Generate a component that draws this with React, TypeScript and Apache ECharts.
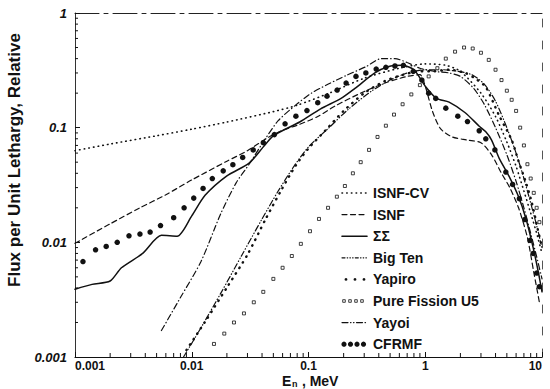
import React, { useEffect, useRef } from "react";
import * as echarts from "echarts";

// Axis ticks and labels
const energyDecades = [0.001, 0.01, 0.1, 1, 10];
const energyTickLabels = ["0.001", "0.01", "0.1", "1", "10"];
const fluxDecades = [0.001, 0.01, 0.1, 1];
const fluxTickLabels = ["0.001", "0.01", "0.1", "1"];
const minorMultipliers = [2, 3, 4, 5, 6, 7, 8, 9];

const seriesNames = ["ISNF-CV", "ISNF", "ΣΣ", "Big Ten", "Yapiro", "Pure Fission U5", "Yayoi", "CFRMF"];

// Spectra: energy (MeV) and relative flux per unit lethargy
const isnfCvEnergy = [0.001, 0.002, 0.005, 0.01, 0.02, 0.05, 0.08, 0.15, 0.3, 0.6, 1.0, 1.5, 2.0, 3.0, 4.0, 5.0, 6.0, 7.0, 8.0, 9.0, 10];
const isnfCvFlux = [0.063, 0.072, 0.085, 0.097, 0.112, 0.138, 0.157, 0.2, 0.27, 0.33, 0.36, 0.35, 0.31, 0.2, 0.125, 0.075, 0.046, 0.028, 0.018, 0.012, 0.008];

const isnfEnergy = [0.001, 0.002, 0.0036, 0.006, 0.01, 0.02, 0.03, 0.045, 0.06, 0.08, 0.12, 0.17, 0.28, 0.45, 0.7, 0.9, 1.0, 1.15, 1.35, 1.7, 2.3, 3.0, 3.7, 4.5, 5.3, 6.3, 7.5, 8.5, 9.5];
const isnfFlux = [0.0098, 0.0145, 0.02, 0.026, 0.035, 0.051, 0.063, 0.082, 0.095, 0.105, 0.125, 0.155, 0.2, 0.245, 0.28, 0.29, 0.23, 0.14, 0.098, 0.083, 0.078, 0.074, 0.058, 0.04, 0.03, 0.02, 0.011, 0.0055, 0.003];

const sigmaEnergy = [0.001, 0.0014, 0.002, 0.0025, 0.0038, 0.0055, 0.0075, 0.01, 0.013, 0.02, 0.031, 0.041, 0.05, 0.084, 0.127, 0.19, 0.25, 0.37, 0.48, 0.63, 0.8, 1.0, 1.25, 1.6, 2.2, 2.9, 3.3, 3.7, 4.3, 5.2, 6.3, 7.3, 8.4, 9.3, 10];
const sigmaFlux = [0.0039, 0.0043, 0.0046, 0.006, 0.008, 0.0115, 0.0113, 0.017, 0.0257, 0.038, 0.049, 0.068, 0.085, 0.112, 0.146, 0.18, 0.22, 0.3, 0.34, 0.35, 0.32, 0.23, 0.18, 0.167, 0.135, 0.103, 0.092, 0.078, 0.054, 0.038, 0.025, 0.016, 0.009, 0.0055, 0.0037];

const bigTenEnergy = [0.0055, 0.008, 0.012, 0.0176, 0.024, 0.031, 0.042, 0.055, 0.078, 0.106, 0.148, 0.21, 0.31, 0.42, 0.55, 0.7, 0.9, 1.2, 1.6, 2.0, 2.6, 3.2, 4.0, 5.0, 6.0, 7.0, 8.0, 9.0, 10];
const bigTenFlux = [0.0017, 0.0033, 0.0068, 0.0175, 0.033, 0.048, 0.078, 0.115, 0.158, 0.2, 0.24, 0.285, 0.34, 0.4, 0.4, 0.37, 0.33, 0.31, 0.3, 0.28, 0.22, 0.16, 0.1, 0.058, 0.034, 0.02, 0.012, 0.0075, 0.0048];

const yapiroEnergy = [0.009, 0.0133, 0.0205, 0.03, 0.043, 0.059, 0.078, 0.1, 0.14, 0.2, 0.3, 0.45, 0.65, 0.9, 1.2, 1.6, 2.2, 2.8, 3.3, 4.3, 5.5, 6.3, 7.3, 8.2, 9.2, 10];
const yapiroFlux = [0.00115, 0.0021, 0.0042, 0.0078, 0.016, 0.029, 0.047, 0.066, 0.095, 0.14, 0.2, 0.255, 0.29, 0.31, 0.31, 0.32, 0.3, 0.26, 0.226, 0.127, 0.078, 0.051, 0.033, 0.022, 0.013, 0.009];

const u5Energy = [0.0155, 0.019, 0.023, 0.028, 0.034, 0.041, 0.05, 0.06, 0.072, 0.086, 0.103, 0.123, 0.147, 0.175, 0.205, 0.24, 0.28, 0.33, 0.39, 0.46, 0.54, 0.64, 0.76, 0.9, 1.07, 1.27, 1.5, 1.8, 2.15, 2.55, 3.0, 3.5, 4.0, 4.5, 5.0, 5.5, 6.0, 6.5, 7.0, 7.5, 8.0, 8.5, 9.0, 9.5];
const u5Flux = [0.0013, 0.0016, 0.002, 0.0024, 0.003, 0.0037, 0.0048, 0.006, 0.0076, 0.0097, 0.0125, 0.016, 0.02, 0.025, 0.031, 0.04, 0.05, 0.064, 0.083, 0.104, 0.13, 0.16, 0.195, 0.235, 0.28, 0.33, 0.4, 0.46, 0.5, 0.49, 0.45, 0.39, 0.32, 0.26, 0.21, 0.175, 0.14, 0.1, 0.07, 0.048, 0.036, 0.027, 0.02, 0.015];

const yayoiEnergy = [0.0085, 0.012, 0.018, 0.027, 0.04, 0.055, 0.075, 0.1, 0.15, 0.22, 0.35, 0.5, 0.7, 1.0, 1.4, 1.9, 2.5, 3.2, 4.0, 5.0, 6.0, 7.0, 8.0, 9.0, 10];
const yayoiFlux = [0.001, 0.0018, 0.0037, 0.0078, 0.016, 0.028, 0.046, 0.068, 0.1, 0.145, 0.21, 0.26, 0.3, 0.32, 0.32, 0.31, 0.29, 0.24, 0.17, 0.1, 0.06, 0.036, 0.022, 0.014, 0.009];

const cfrmfEnergy = [0.00117, 0.0015, 0.00185, 0.0023, 0.0029, 0.0036, 0.0044, 0.0054, 0.007, 0.0086, 0.0104, 0.0125, 0.015, 0.0186, 0.0225, 0.0273, 0.0336, 0.041, 0.051, 0.063, 0.078, 0.097, 0.12, 0.144, 0.176, 0.21, 0.255, 0.31, 0.38, 0.46, 0.55, 0.65, 0.79, 0.935, 1.07, 1.23, 1.5, 1.9, 2.3, 2.9, 3.3, 3.95, 4.9, 5.6, 6.4, 7.1, 7.9, 8.4, 9.0, 9.5];
const cfrmfFlux = [0.0068, 0.0086, 0.0092, 0.01, 0.0114, 0.0118, 0.0123, 0.014, 0.0164, 0.02, 0.0243, 0.0295, 0.036, 0.042, 0.0475, 0.055, 0.064, 0.074, 0.087, 0.108, 0.126, 0.141, 0.165, 0.188, 0.213, 0.245, 0.28, 0.3, 0.324, 0.336, 0.345, 0.35, 0.31, 0.26, 0.2, 0.18, 0.148, 0.126, 0.113, 0.094, 0.08, 0.064, 0.041, 0.032, 0.024, 0.0158, 0.0104, 0.008, 0.0054, 0.0041];

const FONT = "'Liberation Sans', Arial, Helvetica, sans-serif";
const INK = "#111";

const zip = (e: number[], f: number[]) => e.map((x, i) => [x, f[i]]);

const labelFor = (v: number, ticks: number[], labels: string[]) => {
  const i = ticks.findIndex((t) => Math.abs(Math.log10(t) - Math.log10(v)) < 1e-6);
  return i >= 0 ? labels[i] : "";
};

const lineSeries = (name: string, e: number[], f: number[], lineStyle: any) => ({
  name,
  type: "line",
  data: zip(e, f),
  symbol: "none",
  smooth: 0.25,
  silent: true,
  z: 3,
  lineStyle: { color: INK, cap: "round", ...lineStyle },
});

const markerSeries = (name: string, e: number[], f: number[], symbol: string, size: number, itemStyle: any) => ({
  name,
  type: "line",
  data: zip(e, f),
  symbol,
  symbolSize: size,
  showSymbol: true,
  silent: true,
  z: 4,
  lineStyle: { width: 0, opacity: 0 },
  itemStyle,
});

// Minor log ticks (2..9 within each decade), drawn through the axes' own scales
const xMinorTicks = energyDecades.slice(0, -1).flatMap((d) => minorMultipliers.map((m) => m * d));
const yMinorTicks = fluxDecades.slice(0, -1).flatMap((d) => minorMultipliers.map((m) => m * d));

const tickSeries = (values: number[], horizontal: boolean) => ({
  type: "custom",
  coordinateSystem: "cartesian2d",
  silent: true,
  clip: false,
  z: 5,
  data: values.map((v) => (horizontal ? [v, 0.001] : [0.001, v])),
  renderItem: (_params: any, api: any) => {
    const p = api.coord([api.value(0), api.value(1)]);
    const shape = horizontal
      ? { x1: p[0], y1: p[1], x2: p[0], y2: p[1] - 4 }
      : { x1: p[0], y1: p[1], x2: p[0] + 3, y2: p[1] };
    return { type: "line", shape, style: { stroke: INK, lineWidth: 1 } };
  },
});

// Legend drawn as graphic samples + text
const legendX0 = 342;
const legendX1 = 367;
const legendTop = 193;
const legendStep = 21.6;

const legendSample = (i: number): any[] => {
  const y = legendTop + i * legendStep;
  const line = (dash: number[] | null, width: number) => ({
    type: "line",
    shape: { x1: legendX0, y1: y, x2: legendX1, y2: y },
    style: { stroke: INK, lineWidth: width, lineDash: dash || undefined, lineCap: "round" },
  });
  switch (i) {
    case 0:
      return [line([0.5, 4.2], 1.6)];
    case 1:
      return [line([5, 3.5], 1.2)];
    case 2:
      return [line(null, 1.6)];
    case 3:
      return [line([3, 2.2, 0.5, 2.2, 0.5, 2.2, 0.5, 2.2], 1.2)];
    case 4:
      return [346, 355, 364].map((cx) => ({ type: "circle", shape: { cx, cy: y, r: 1.4 }, style: { fill: INK } }));
    case 5:
      return [344, 350, 356, 362].map((cx) => ({
        type: "rect",
        shape: { x: cx - 1.3, y: y - 1.3, width: 2.6, height: 2.6 },
        style: { fill: "#fff", stroke: INK, lineWidth: 0.8 },
      }));
    case 6:
      return [line([6, 2.5, 0.5, 2.5, 0.5, 2.5], 1.2)];
    default:
      return [344, 350.5, 357, 363.5].map((cx) => ({ type: "circle", shape: { cx, cy: y, r: 2.6 }, style: { fill: INK } }));
  }
};

const legendGraphics = seriesNames.flatMap((name, i) => [
  ...legendSample(i),
  {
    type: "text",
    x: 373,
    y: legendTop + i * legendStep,
    style: { text: name, fill: INK, fontFamily: FONT, fontWeight: "bold", fontSize: 14, verticalAlign: "middle", align: "left" },
  },
]);

const titleGraphics = [
  {
    type: "text",
    x: 14,
    y: 160,
    rotation: Math.PI / 2,
    style: {
      text: "Flux per Unit Lethargy, Relative",
      fill: INK,
      fontFamily: FONT,
      fontWeight: "bold",
      fontSize: 17,
      align: "center",
      verticalAlign: "middle",
    },
  },
  {
    type: "text",
    x: 282,
    y: 381,
    style: { text: "E", fill: INK, fontFamily: FONT, fontWeight: "bold", fontSize: 14, align: "left", verticalAlign: "middle" },
  },
  {
    type: "text",
    x: 292,
    y: 384,
    style: { text: "n", fill: INK, fontFamily: FONT, fontWeight: "bold", fontSize: 9, align: "left", verticalAlign: "middle" },
  },
  {
    type: "text",
    x: 298,
    y: 381,
    style: { text: " , MeV", fill: INK, fontFamily: FONT, fontWeight: "bold", fontSize: 14, align: "left", verticalAlign: "middle" },
  },
];

export default function App() {
  const ref = useRef<HTMLDivElement>(null);

  useEffect(() => {
    if (!ref.current) return;
    const chart = echarts.init(ref.current, undefined, { renderer: "svg" });

    const axisText = { color: INK, fontFamily: FONT, fontWeight: "bold", fontSize: 13 };

    chart.setOption({
      animation: false,
      backgroundColor: "#ffffff",
      grid: { left: 75, right: 8, top: 13, bottom: 32 },
      xAxis: [
        {
          type: "log",
          logBase: 10,
          min: 0.001,
          max: 10,
          splitNumber: 4,
          position: "bottom",
          axisLine: { show: true, onZero: false, lineStyle: { color: INK, width: 1.2 } },
          axisTick: { show: true, inside: true, length: 5, lineStyle: { color: INK, width: 1 } },
          axisLabel: {
            ...axisText,
            fontSize: 12,
            margin: 3,
            alignMinLabel: "left",
            alignMaxLabel: "right",
            formatter: (v: number) => labelFor(v, energyDecades, energyTickLabels),
          },
          splitLine: { show: false },
          minorTick: { show: false },
        },
        {
          type: "log",
          logBase: 10,
          min: 0.001,
          max: 10,
          position: "top",
          axisLine: { show: true, onZero: false, lineStyle: { color: "#222", width: 1, type: [24, 5, 4, 5] } },
          axisTick: { show: false },
          axisLabel: { show: false },
          splitLine: { show: false },
        },
      ],
      yAxis: [
        {
          type: "log",
          logBase: 10,
          min: 0.001,
          max: 1,
          splitNumber: 3,
          position: "left",
          axisLine: { show: true, onZero: false, lineStyle: { color: "#333", width: 1 } },
          axisTick: { show: true, inside: true, length: 5, lineStyle: { color: INK, width: 1 } },
          axisLabel: {
            ...axisText,
            fontStyle: "italic",
            margin: 8,
            formatter: (v: number) => labelFor(v, fluxDecades, fluxTickLabels),
          },
          splitLine: { show: false },
          minorTick: { show: false },
        },
        {
          type: "log",
          logBase: 10,
          min: 0.001,
          max: 1,
          position: "right",
          axisLine: { show: true, onZero: false, lineStyle: { color: "#555", width: 1, type: [8, 14] } },
          axisTick: { show: false },
          axisLabel: { show: false },
          splitLine: { show: false },
        },
      ],
      series: [
        lineSeries(seriesNames[0], isnfCvEnergy, isnfCvFlux, { width: 1.6, type: [0.5, 4.2] }),
        lineSeries(seriesNames[1], isnfEnergy, isnfFlux, { width: 1.2, type: [5, 3.5] }),
        lineSeries(seriesNames[2], sigmaEnergy, sigmaFlux, { width: 1.5, type: "solid" }),
        lineSeries(seriesNames[3], bigTenEnergy, bigTenFlux, { width: 1.2, type: [6, 3, 0.5, 3] }),
        lineSeries(seriesNames[4], yapiroEnergy, yapiroFlux, { width: 2.4, type: [0.5, 6] }),
        markerSeries(seriesNames[5], u5Energy, u5Flux, "rect", 3, { color: "#fff", borderColor: INK, borderWidth: 0.8 }),
        lineSeries(seriesNames[6], yayoiEnergy, yayoiFlux, { width: 1.2, type: [6, 2.5, 0.5, 2.5, 0.5, 2.5] }),
        markerSeries(seriesNames[7], cfrmfEnergy, cfrmfFlux, "circle", 5.5, { color: INK }),
        tickSeries(xMinorTicks, true),
        tickSeries(yMinorTicks, false),
      ],
      graphic: [...titleGraphics, ...legendGraphics],
    });

    return () => chart.dispose();
  }, []);

  return <div ref={ref} style={{ position: "fixed", left: 0, top: 0, width: 550, height: 389, background: "#fff" }} />;
}
